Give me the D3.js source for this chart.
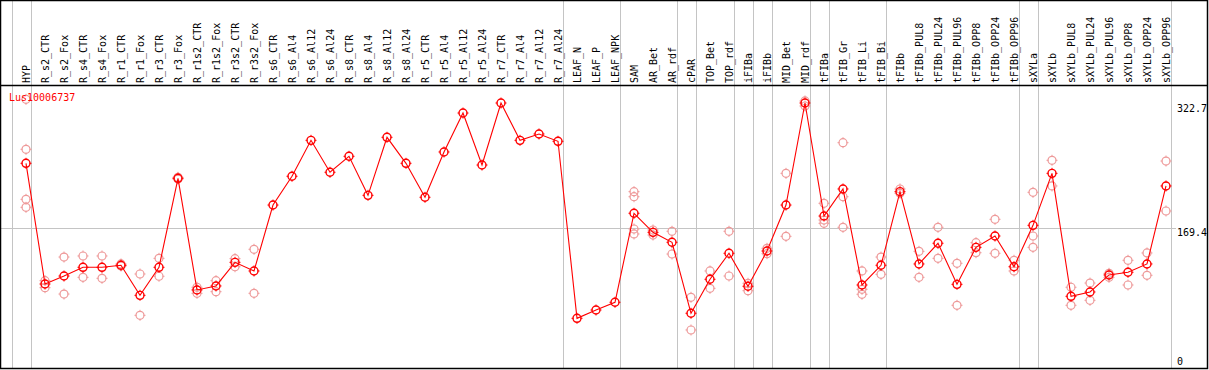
<!DOCTYPE html>
<html>
<head>
<meta charset="utf-8">
<script src="https://cdn.jsdelivr.net/npm/d3@7/dist/d3.min.js"></script>
<style>
html,body{margin:0;padding:0;background:#fff;}
svg{display:block;}
text{font-family:"DejaVu Sans Mono",monospace;font-size:10px;}
</style>
</head>
<body>
<svg id="chart" width="1209" height="370"></svg>
<script>
const title = "Lus10006737";
const categories = ["HYP","R_s2_CTR","R_s2_Fox","R_s4_CTR","R_s4_Fox","R_r1_CTR","R_r1_Fox","R_r3_CTR","R_r3_Fox","R_r1s2_CTR","R_r1s2_Fox","R_r3s2_CTR","R_r3s2_Fox","R_s6_CTR","R_s6_Al4","R_s6_Al12","R_s6_Al24","R_s8_CTR","R_s8_Al4","R_s8_Al12","R_s8_Al24","R_r5_CTR","R_r5_Al4","R_r5_Al12","R_r5_Al24","R_r7_CTR","R_r7_Al4","R_r7_Al12","R_r7_Al24","LEAF_N","LEAF_P","LEAF_NPK","SAM","AR_Bet","AR_rdf","cPAR","TOP_Bet","TOP_rdf","iFIBa","iFIBb","MID_Bet","MID_rdf","tFIBa","tFIB_Gr","tFIB_Li","tFIB_Bi","tFIBb","tFIBb_PUL8","tFIBb_PUL24","tFIBb_PUL96","tFIBb_OPP8","tFIBb_OPP24","tFIBb_OPP96","sXYLa","sXYLb","sXYLb_PUL8","sXYLb_PUL24","sXYLb_PUL96","sXYLb_OPP8","sXYLb_OPP24","sXYLb_OPP96"];
const means = [248.7,100.6,110.4,121.1,121.1,123.6,86.7,121.1,230.3,93.3,98.2,127.2,116.6,197.5,232.8,276.9,237.7,257.3,209.4,280.6,248.7,207.0,262.6,310.4,246.6,322.7,276.9,284.7,275.7,58.5,68.7,78.2,187.4,164.0,151.8,64.7,106.4,138.3,97.8,141.1,197.5,322.7,184.0,217.2,99.4,123.6,213.9,125.2,150.6,100.2,145.6,159.5,121.8,172.6,236.4,85.5,90.8,111.7,115.0,125.2,220.9];
const replicates = [
  [327.2,265.9,204.5,194.7],
  [104.7,96.1],
  [133.7,88.3],
  [135.0,108.8],
  [135.0,107.6],
  [125.2,122.7],
  [112.9,62.2],
  [132.1,110.1],
  [231.5,229.4],
  [96.6,89.2],
  [104.7,91.2],
  [131.7,121.8],
  [143.2,89.2],
  [],[],[],[],[],[],[],[],[],[],[],[],[],[],[],[],[],[],[],
  [213.9,207.7,168.1,162.0],
  [166.9,160.7],
  [165.3,137.4],
  [84.3,44.2],
  [116.6,95.3],
  [165.3,110.4],
  [101.5,92.4],
  [144.4,137.8],
  [236.4,159.1],
  [325.2,319.0],
  [199.6,179.1,175.1],
  [274.0,207.7,170.2],
  [116.6,94.1,88.0],
  [133.7,112.5],
  [217.2,211.9],
  [140.7,108.8],
  [170.2,132.1],
  [126.0,74.5],
  [151.3,139.0],
  [180.0,138.3],
  [129.7,116.6],
  [213.1,159.5,145.6],
  [252.4,220.9],
  [96.6,74.5],
  [101.8,80.6],
  [113.7,108.8],
  [129.7,99.4],
  [138.7,111.3],
  [251.5,190.2]
];
const yTicks = [0, 169.4, 322.7];
const groupEnds = ["HYP","R_r7_Al24","LEAF_NPK","AR_rdf","cPAR","TOP_rdf","iFIBa","iFIBb","MID_rdf","tFIBa","tFIB_Bi","tFIBb_OPP96","sXYLa","sXYLb_OPP96"];

const svg = d3.select("#chart");
const x = d3.scalePoint().domain(categories).range([26, 1166]);
const y = d3.scaleLinear().domain([0, 322.7]).range([366, 103]);
const step = x.step();
const gridCol = "#c4c4c4";

// vertical group separators
const sepX = [x(categories[0]) - step + 4.5].concat(groupEnds.map(c => x(c) + 4.5));
svg.append("g").selectAll("line").data(sepX).join("line")
  .attr("x1", d => Math.round(d) + 0.5).attr("x2", d => Math.round(d) + 0.5)
  .attr("y1", 0).attr("y2", 369)
  .attr("stroke", gridCol).attr("stroke-width", 1);

// horizontal grid for interior ticks
const innerTicks = yTicks.filter(v => v > 0 && v < d3.max(yTicks));
svg.append("g").selectAll("line").data(innerTicks).join("line")
  .attr("x1", 1).attr("x2", 1176)
  .attr("y1", d => Math.round(y(d)) + 0.5).attr("y2", d => Math.round(y(d)) + 0.5)
  .attr("stroke", gridCol).attr("stroke-width", 1);

// y tick labels (right side)
svg.append("g").selectAll("text").data(yTicks).join("text")
  .attr("x", 1177)
  .attr("y", d => Math.min(y(d) + 8.5, 365))
  .attr("fill", "#000")
  .text(d => d3.format("")(d));

// column labels (rotated)
svg.append("g").selectAll("text").data(categories).join("text")
  .attr("transform", d => `translate(${x(d) + 3.5},83) rotate(-90)`)
  .attr("text-anchor", "start")
  .attr("fill", "#000")
  .text(d => d);

// frame
svg.append("rect").attr("x", 0.5).attr("y", 0.5).attr("width", 1207).attr("height", 368)
  .attr("fill", "none").attr("stroke", "#000").attr("stroke-width", 1.5);
svg.append("line").attr("x1", 0).attr("x2", 1208).attr("y1", 85.5).attr("y2", 85.5)
  .attr("stroke", "#000").attr("stroke-width", 1.5);

function marker(g, cx, cy, color, sw) {
  const r = 4;
  g.append("circle").attr("cx", cx).attr("cy", cy).attr("r", r)
    .attr("fill", "none").attr("stroke", color).attr("stroke-width", sw);
  const t = [[0,-1],[0,1],[-1,0],[1,0]];
  t.forEach(([dx,dy]) => {
    g.append("line")
      .attr("x1", cx + dx * (r - 0.5)).attr("y1", cy + dy * (r - 0.5))
      .attr("x2", cx + dx * (r + 1.5)).attr("y2", cy + dy * (r + 1.5))
      .attr("stroke", color).attr("stroke-width", 1);
  });
}

// replicate points
const repG = svg.append("g");
categories.forEach((c, i) => {
  replicates[i].forEach(v => marker(repG, x(c), y(v), "#ee9a9a", 1.2));
});

// mean line
const line = d3.line().x((d, i) => x(categories[i])).y(d => y(d));
svg.append("path").datum(means).attr("d", line)
  .attr("fill", "none").attr("stroke", "#ff0000").attr("stroke-width", 1.1);

// mean points
const mG = svg.append("g");
categories.forEach((c, i) => marker(mG, x(c), y(means[i]), "#ff0000", 1.4));

// title
svg.append("text").attr("x", 9).attr("y", 100.5).attr("fill", "#ff0000").text(title);
</script>
</body>
</html>
